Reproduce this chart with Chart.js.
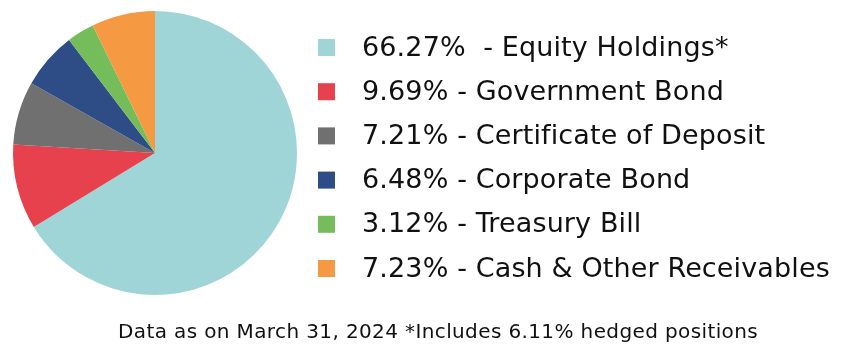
<!DOCTYPE html>
<html>
<head>
<meta charset="utf-8">
<script src="https://cdn.jsdelivr.net/npm/chart.js@4/dist/chart.umd.min.js"></script>
<style>
  html, body { margin: 0; padding: 0; background: #ffffff; }
  #wrap { width: 842px; height: 358px; position: relative; }
</style>
</head>
<body>
<div id="wrap"><canvas id="c" width="842" height="358"></canvas></div>
<script>
const categories = ["Equity Holdings*", "Government Bond", "Certificate of Deposit", "Corporate Bond", "Treasury Bill", "Cash & Other Receivables"];
const values = [66.27, 9.69, 7.21, 6.48, 3.12, 7.23];
const colors = ["#9fd5d7", "#e8414e", "#707070", "#2e4d86", "#74bd5a", "#f59a42"];
const footnote = "Data as on March 31, 2024 *Includes 6.11% hedged positions";

const FONT = "'DejaVu Sans', sans-serif";

function spacingFor(ctx, text, target) {
  ctx.letterSpacing = '0px';
  const w = ctx.measureText(text).width;
  return (target - w) / text.length;
}

const legendPlugin = {
  id: 'customLegend',
  afterDraw(chart) {
    const ctx = chart.ctx;
    ctx.save();
    const startY = 47.5, step = 44.2;
    ctx.textBaseline = 'middle';
    ctx.textAlign = 'left';
    ctx.font = "400 27px " + FONT;
    const texts = categories.map((name, i) => values[i].toFixed(2) + (i === 0 ? "%  - " : "% - ") + name);
    const ls = spacingFor(ctx, texts[5], 468);
    ctx.letterSpacing = ls.toFixed(2) + 'px';
    texts.forEach((t, i) => {
      const y = startY + i * step;
      ctx.fillStyle = colors[i];
      ctx.fillRect(318, y - 8.5, 17, 17);
      ctx.fillStyle = '#111111';
      ctx.fillText(t, 362, y + 1);
    });
    ctx.font = "400 20px " + FONT;
    const ls2 = spacingFor(ctx, footnote, 640);
    ctx.letterSpacing = ls2.toFixed(2) + 'px';
    ctx.textAlign = 'left';
    ctx.fillStyle = '#111111';
    ctx.fillText(footnote, 118, 333);
    ctx.restore();
  }
};

new Chart(document.getElementById('c'), {
  type: 'pie',
  data: {
    labels: categories,
    datasets: [{
      data: values,
      backgroundColor: colors,
      borderWidth: 0
    }]
  },
  options: {
    responsive: false,
    animation: false,
    layout: { padding: { left: 13, top: 11, right: 545, bottom: 63 } },
    plugins: {
      legend: { display: false },
      tooltip: { enabled: false }
    }
  },
  plugins: [legendPlugin]
});
</script>
</body>
</html>
